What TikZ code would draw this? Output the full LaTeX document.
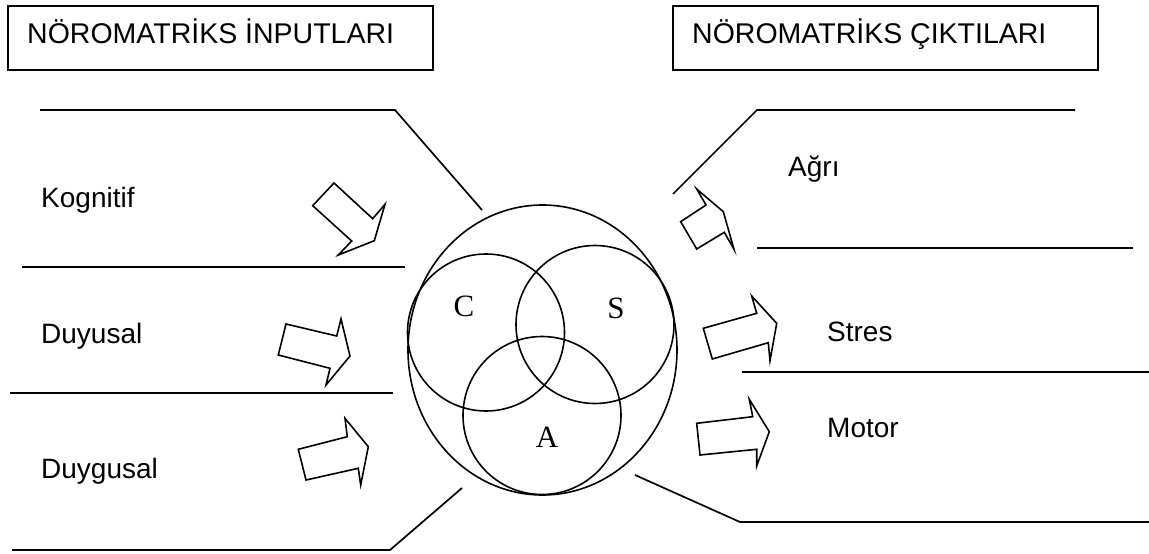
\documentclass[tikz,border=0pt]{standalone}
\usepackage{fontspec}
\setmainfont{Liberation Sans}
\newfontfamily\serifface{Liberation Serif}
\begin{document}
\begin{tikzpicture}[x=1pt,y=-1pt,
  ln/.style={line width=1.7pt, line join=miter},
  blockarrow/.style={line width=1.6pt, line join=miter, fill=white},
  ttl/.style={anchor=base west, inner sep=0pt, font=\fontsize{28.5}{30}\selectfont},
  lbl/.style={anchor=base west, inner sep=0pt, font=\fontsize{28}{30}\selectfont},
  venn/.style={circle, draw, line width=1.6pt, inner sep=0pt},
  vlbl/.style={anchor=base, inner sep=0pt, font=\serifface\fontsize{31}{33}\selectfont}]
\useasboundingbox (0,0) rectangle (1149,554);
% title boxes
\draw[line width=1.7pt] (8,6) rectangle (433,70);
\node[ttl] (tin) at (27,43) {NÖROMATRİKS İNPUTLARI};
\draw[line width=1.7pt] (673,6) rectangle (1098,70);
\node[ttl] (tout) at (692,43) {NÖROMATRİKS ÇIKTILARI};
% left lines
\draw[ln] (40,110) -- (395,110) -- (482,210);
\draw[ln] (22,267) -- (405,267);
\draw[ln] (10,393) -- (393,393);
\draw[ln] (12,550) -- (390,550) -- (462,488);
% right lines
\draw[ln] (673,194) -- (757,110) -- (1075,110);
\draw[ln] (757,248) -- (1133,248);
\draw[ln] (742,372) -- (1149,372);
\draw[ln] (635,475) -- (740,522) -- (1149,522);
% labels
\node[lbl] (kog) at (41,207) {Kognitif};
\node[lbl] (duy) at (41,343) {Duyusal};
\node[lbl] (duyg) at (41,478) {Duygusal};
\node[lbl] (agri) at (788,176) {Ağrı};
\node[lbl] (stres) at (827,341) {Stres};
\node[lbl] (motor) at (827,437) {Motor};
% venn
\draw[line width=1.6pt] (542.5,350) ellipse [x radius=134.5, y radius=145];
\node[venn, minimum size=157pt] (cc) at (486,332.5) {};
\node[venn, minimum size=158pt] (sc) at (595,324.5) {};
\node[venn, minimum size=158pt] (ac) at (542,415.5) {};
\node[vlbl] (cl) at (464,316) {C};
\node[vlbl] (sl) at (616,318) {S};
\node[vlbl] (al) at (547,447) {A};
% left arrows
\draw[blockarrow] (334,183) -- (372.7,218.7) -- (385,204.3) -- (374.3,240.7) -- (338.3,255) -- (351.7,241) -- (312.7,205.7) -- cycle;
\draw[blockarrow] (286,324) -- (336.7,336) -- (341,319) -- (350,356) -- (326,385) -- (330,368.3) -- (278.3,355) -- cycle;
\draw[blockarrow] (298.3,449.3) -- (347.3,436.7) -- (345,418.3) -- (368.3,446.7) -- (360.7,485) -- (358.3,468.3) -- (306,480) -- cycle;
% right arrows
\draw[blockarrow] (680.7,221.7) -- (706,205) -- (696.7,189) -- (723.3,211.7) -- (734,249.3) -- (724.3,232.3) -- (696.7,249) -- cycle;
\draw[blockarrow] (703.3,328.3) -- (756.7,313.3) -- (751.7,296) -- (776.7,323.3) -- (770,360.7) -- (768.3,342.7) -- (712.3,359) -- cycle;
\draw[blockarrow] (696.7,423.3) -- (752.7,416.7) -- (749.3,399.3) -- (769.3,431.7) -- (756.7,466) -- (756.7,449.3) -- (700,455) -- cycle;
\end{tikzpicture}
\end{document}
